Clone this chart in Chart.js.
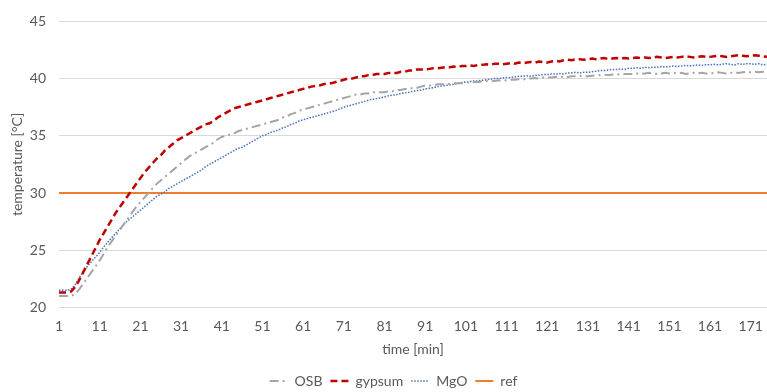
<!DOCTYPE html>
<html>
<head>
<meta charset="utf-8">
<script src="https://cdn.jsdelivr.net/npm/chart.js@4.4.1/dist/chart.umd.min.js"></script>
<style>
  html, body { margin: 0; padding: 0; background: #ffffff; }
  #wrap { width: 767px; height: 392px; position: relative; }
  canvas { display: block; }
</style>
</head>
<body>
<div id="wrap"><canvas id="c" width="767" height="392"></canvas></div>
<script>
// time in minutes: 1 .. 175
const minutes = [
  1,2,3,4,5,6,7,8,9,10,11,12,13,14,15,16,17,18,19,20,
  21,22,23,24,25,26,27,28,29,30,31,32,33,34,35,36,37,38,39,40,
  41,42,43,44,45,46,47,48,49,50,51,52,53,54,55,56,57,58,59,60,
  61,62,63,64,65,66,67,68,69,70,71,72,73,74,75,76,77,78,79,80,
  81,82,83,84,85,86,87,88,89,90,91,92,93,94,95,96,97,98,99,100,
  101,102,103,104,105,106,107,108,109,110,111,112,113,114,115,116,117,118,119,120,
  121,122,123,124,125,126,127,128,129,130,131,132,133,134,135,136,137,138,139,140,
  141,142,143,144,145,146,147,148,149,150,151,152,153,154,155,156,157,158,159,160,
  161,162,163,164,165,166,167,168,169,170,171,172,173,174,175
];

const osb = [
  21.0,21.0,21.0,21.0,21.2,21.6,22.1,22.6,23.1,23.6,
  24.1,24.7,25.3,25.8,26.3,26.8,27.3,27.8,28.3,28.8,
  29.2,29.6,30.0,30.4,30.8,31.1,31.4,31.7,32.0,32.3,
  32.6,32.9,33.2,33.4,33.6,33.8,34.0,34.2,34.4,34.7,
  34.9,35.0,35.1,35.2,35.4,35.5,35.6,35.7,35.8,35.9,
  36.0,36.1,36.2,36.3,36.4,36.6,36.7,36.9,37.0,37.2,
  37.3,37.4,37.5,37.6,37.7,37.8,37.9,38.0,38.1,38.2,
  38.3,38.4,38.5,38.6,38.6,38.7,38.7,38.8,38.8,38.8,
  38.8,38.9,38.9,39.0,39.0,39.1,39.1,39.2,39.2,39.3,
  39.4,39.4,39.4,39.5,39.5,39.5,39.55,39.6,39.6,39.6,
  39.65,39.7,39.7,39.7,39.75,39.8,39.75,39.8,39.85,39.8,
  39.85,39.9,39.9,39.95,39.9,40.0,40.0,40.05,40.0,40.1,
  40.1,40.1,40.15,40.1,40.2,40.15,40.2,40.2,40.25,40.2,
  40.2,40.25,40.3,40.3,40.35,40.3,40.35,40.4,40.35,40.4,
  40.4,40.4,40.45,40.4,40.45,40.5,40.45,40.4,40.45,40.5,
  40.45,40.5,40.45,40.5,40.4,40.45,40.5,40.45,40.5,40.45,
  40.45,40.5,40.55,40.5,40.45,40.5,40.55,40.5,40.55,40.6,
  40.55,40.6,40.55,40.6,40.6
];

const gypsum = [
  21.3,21.3,21.3,21.4,21.8,22.4,23.1,23.8,24.5,25.2,
  25.9,26.5,27.1,27.7,28.3,28.8,29.3,29.8,30.3,30.8,
  31.3,31.8,32.2,32.6,33.0,33.3,33.7,34.0,34.3,34.6,
  34.8,35.0,35.2,35.4,35.6,35.8,36.0,36.1,36.3,36.6,
  36.8,37.0,37.2,37.4,37.5,37.6,37.7,37.8,37.9,38.0,
  38.1,38.2,38.3,38.4,38.5,38.6,38.7,38.8,38.9,39.0,
  39.1,39.2,39.3,39.35,39.4,39.5,39.6,39.6,39.7,39.8,
  39.9,40.0,40.0,40.1,40.2,40.2,40.3,40.3,40.4,40.4,
  40.4,40.5,40.5,40.5,40.6,40.6,40.7,40.7,40.8,40.8,
  40.8,40.85,40.9,40.9,40.95,41.0,41.0,41.05,41.0,41.1,
  41.1,41.15,41.1,41.2,41.2,41.25,41.2,41.3,41.3,41.25,
  41.3,41.35,41.3,41.4,41.35,41.4,41.45,41.4,41.5,41.45,
  41.4,41.5,41.55,41.5,41.6,41.65,41.6,41.7,41.7,41.65,
  41.7,41.75,41.7,41.75,41.8,41.7,41.75,41.8,41.75,41.8,
  41.75,41.8,41.85,41.8,41.85,41.8,41.85,41.9,41.85,41.8,
  41.85,41.9,41.85,41.9,41.95,41.9,41.85,41.9,41.95,41.9,
  41.9,41.95,42.0,41.95,41.9,41.95,42.0,42.05,42.0,41.95,
  42.0,42.05,42.0,41.95,41.9
];

const mgo = [
  21.5,21.5,21.5,21.6,22.0,22.6,23.1,23.6,24.0,24.4,
  24.8,25.3,25.7,26.1,26.5,26.9,27.3,27.6,27.9,28.2,
  28.5,28.8,29.1,29.4,29.7,29.9,30.1,30.4,30.6,30.8,
  31.0,31.2,31.4,31.6,31.8,32.0,32.3,32.5,32.7,32.9,
  33.1,33.3,33.5,33.7,33.9,34.0,34.2,34.4,34.6,34.8,
  35.0,35.1,35.3,35.4,35.5,35.7,35.8,36.0,36.1,36.3,
  36.4,36.5,36.6,36.7,36.8,36.9,37.0,37.1,37.2,37.35,
  37.5,37.6,37.7,37.8,37.9,38.0,38.1,38.2,38.25,38.3,
  38.4,38.5,38.55,38.6,38.7,38.75,38.8,38.9,38.95,39.0,
  39.1,39.15,39.2,39.3,39.35,39.4,39.45,39.5,39.6,39.65,
  39.7,39.75,39.8,39.8,39.85,39.9,39.95,40.0,40.0,40.05,
  40.1,40.1,40.15,40.2,40.2,40.25,40.2,40.3,40.3,40.35,
  40.35,40.4,40.4,40.45,40.4,40.5,40.5,40.55,40.5,40.55,
  40.55,40.6,40.65,40.7,40.7,40.75,40.8,40.8,40.85,40.8,
  40.9,40.9,40.95,40.9,41.0,40.95,41.0,41.0,41.05,41.0,
  41.05,41.1,41.05,41.1,41.15,41.1,41.15,41.2,41.15,41.2,
  41.2,41.25,41.2,41.25,41.3,41.25,41.2,41.3,41.25,41.3,
  41.3,41.25,41.3,41.2,41.25
];

// reference temperature (constant line from first to last minute)
const refTemp = [30, 30];
const refMinutes = ['1', '175'];

const yTicks = [20, 25, 30, 35, 40, 45];
const xTickEvery = 10;

const labels = minutes.map(String);
const refData = refMinutes.map((m, i) => ({ x: m, y: refTemp[i] }));

const FONT = 'Lato, "Open Sans", sans-serif';
const TXT = '#595959';

// nudge the legend row to the right, as in the reference
const legendShift = {
  id: 'legendShift',
  afterLayout(chart) {
    if (chart.legend) { chart.legend.left += 10; chart.legend.right += 10; }
  }
};

new Chart(document.getElementById('c'), {
  type: 'line',
  data: {
    labels: labels,
    datasets: [
      { label: 'OSB', data: osb, borderColor: '#A5A5A5', borderWidth: 2, borderDash: [9, 4, 2, 4], pointRadius: 0, tension: 0, fill: false },
      { label: 'gypsum', data: gypsum, borderColor: '#C00000', borderWidth: 2.5, borderDash: [7, 4], pointRadius: 0, tension: 0, fill: false },
      { label: 'MgO', data: mgo, borderColor: '#4472C4', borderWidth: 1.5, borderDash: [1.5, 1.5], pointRadius: 0, tension: 0, fill: false },
      { label: 'ref', data: refData, borderColor: '#ED7D31', borderWidth: 2, pointRadius: 0, tension: 0, fill: false }
    ]
  },
  plugins: [legendShift],
  options: {
    responsive: false,
    animation: false,
    maintainAspectRatio: false,
    devicePixelRatio: 1,
    layout: { padding: { left: 0, right: 0, top: 21, bottom: -6 } },
    plugins: {
      tooltip: { enabled: false },
      legend: {
        position: 'bottom',
        labels: {
          usePointStyle: true,
          pointStyle: 'line',
          pointStyleWidth: 18,
          padding: 8,
          color: TXT,
          font: { family: FONT, size: 14 },
          generateLabels: function (chart) {
            const items = Chart.defaults.plugins.legend.labels.generateLabels(chart);
            items.forEach(it => {
              const ds = chart.data.datasets[it.datasetIndex];
              it.lineDash = ds.borderDash || [];
              it.strokeStyle = ds.borderColor;
              it.lineWidth = ds.borderWidth;
              it.pointStyle = 'line';
            });
            return items;
          }
        }
      }
    },
    scales: {
      x: {
        type: 'category',
        offset: false,
        grid: { display: false },
        border: { display: false },
        afterFit: function (s) { s.paddingRight = 0; },
        ticks: {
          autoSkip: false,
          maxRotation: 0,
          minRotation: 0,
          padding: 3,
          color: TXT,
          font: { family: FONT, size: 14 },
          callback: function (val, idx) { return idx % xTickEvery === 0 ? labels[idx] : ''; }
        },
        title: { display: true, text: 'time [min]', color: TXT, font: { family: FONT, size: 14 }, padding: { top: 3, bottom: 8 } }
      },
      y: {
        min: yTicks[0],
        max: yTicks[yTicks.length - 1],
        afterBuildTicks: function (s) { s.ticks = yTicks.map(v => ({ value: v })); },
        afterFit: function (s) { s.width = 59; },
        grid: { color: '#D9D9D9', lineWidth: 1, drawTicks: false },
        border: { display: false },
        ticks: { padding: 13, color: TXT, font: { family: FONT, size: 14 } },
        title: { display: true, text: 'temperature [°C]', color: TXT, font: { family: FONT, size: 14 }, padding: { top: 9, bottom: 0 } }
      }
    }
  }
});
</script>
</body>
</html>
